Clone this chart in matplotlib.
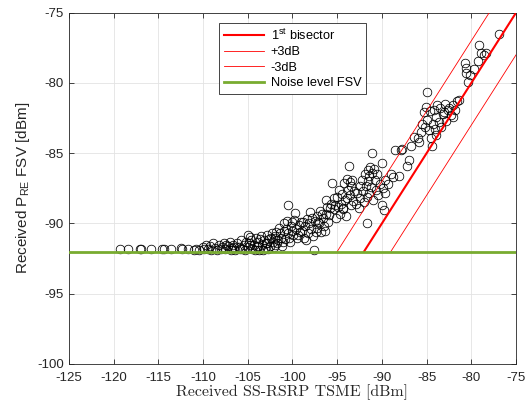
import matplotlib
matplotlib.use("Agg")
import matplotlib.pyplot as plt
import numpy as np

# ---- data ----
noise_level = -92.0
offsets = [0.0, 3.0, -3.0]          # bisector, +3dB, -3dB
labels = [r"1$^{\mathregular{st}}$ bisector", "+3dB", "-3dB", "Noise level FSV"]

tsme_x = [
    # flat part
    -119.3, -118.4, -117.0, -116.9, -115.8, -114.6, -114.4, -113.6, -112.5, -112.4, -111.7, -111.0, -110.8,
    # -110 .. -105
    -110.4, -110.0, -109.7, -109.5, -109.2, -108.9, -108.7, -108.4, -108.2, -107.9, -107.7, -107.5, -107.2,
    -107.0, -106.8, -106.6, -106.4, -106.2, -106.0, -105.8, -105.6, -105.4, -105.2, -105.0, -105.0, -104.8,
    -109.9, -109.1, -108.0, -107.4, -106.9, -106.5, -105.9, -105.3,
    # -105 .. -102
    -104.6, -104.5, -104.3, -104.1, -104.0, -103.8, -103.7, -103.5, -103.4, -103.2, -103.1, -102.9, -102.8,
    -102.6, -102.5, -102.3, -102.2, -102.0, -101.9,
    -104.9, -104.7, -104.2, -103.9, -103.6, -103.3, -103.0, -102.7, -102.4, -102.1,
    # -102 .. -99
    -101.8, -101.6, -101.5, -101.3, -101.2, -101.0, -100.9, -100.8, -100.6, -100.5, -100.5, -100.3, -100.2,
    -100.0, -99.9, -99.8, -99.7, -99.6, -99.5, -99.3, -99.2, -99.0,
    -101.9, -101.7, -101.4, -101.1, -100.7, -100.4, -100.1, -99.4,
    # -99 .. -96
    -98.9, -98.7, -98.6, -98.4, -98.3, -98.1, -98.0, -97.9, -97.7, -97.6, -97.5, -97.3, -97.2, -97.0, -96.9,
    -96.8, -96.6, -96.5, -96.3, -96.2, -96.1, -96.0,
    -98.8, -98.5, -97.8, -97.4, -97.1, -96.7, -96.4,
    # -96 .. -93
    -95.9, -95.7, -95.55, -95.4, -95.3, -95.1, -95.0, -94.9, -94.7, -94.6, -94.5, -94.4, -94.25, -94.1,
    -94.0, -93.9, -93.8, -93.7, -93.6, -93.5, -93.4, -93.3, -93.2, -93.1,
    -95.8, -95.2, -94.8, -94.3, -93.95, -93.55,
    # -93 .. -90
    -92.9, -92.8, -92.6, -92.5, -92.4, -92.2, -92.1, -92.0, -91.9, -91.8, -91.7, -91.7, -91.6, -91.5, -91.4,
    -91.4, -91.3, -91.2, -91.15, -91.1, -91.0, -90.9, -90.8, -90.7, -90.5, -90.4, -90.2, -90.04, -90.0,
    -89.8, -89.9,
    # -90 .. -86
    -89.7, -89.6, -89.3, -89.0, -88.8, -88.5, -88.1, -87.9, -87.7, -87.2, -87.0, -86.7, -86.4, -86.0,
    # -86 .. -81
    -85.9, -85.6, -85.5, -85.3, -85.2, -85.1, -85.0, -84.9, -84.75, -84.6, -84.55, -84.4, -84.3, -84.2,
    -84.1, -84.0, -83.9, -83.8, -83.6, -83.5, -83.4, -83.2, -83.1, -82.9, -82.8, -82.6, -82.5, -82.3,
    -82.1, -82.0, -81.8, -81.6, -81.4,
    # upper end
    -80.7, -80.6, -80.6, -80.4, -80.2, -79.7, -79.3, -79.1, -78.95, -78.6, -78.4, -76.9,
]

fsv_y = [
    -91.85, -91.85, -91.8, -91.85, -91.8, -91.8, -91.85, -91.8, -91.75, -91.85, -91.8, -91.9, -91.8,
    -91.9, -91.7, -91.5, -91.8, -91.6, -91.4, -91.75, -91.9, -91.55, -91.7, -91.4, -91.85, -91.6,
    -91.3, -91.75, -91.5, -91.9, -91.4, -91.65, -91.2, -91.8, -91.5, -91.35, -90.8, -91.7, -91.55,
    -91.85, -91.9, -91.85, -91.55, -91.9, -91.65, -91.85, -91.9,
    -91.2, -91.8, -91.5, -91.0, -91.7, -91.3, -91.9, -90.9, -91.5, -91.2, -91.75, -90.8, -91.4,
    -91.1, -91.6, -90.7, -91.3, -91.0, -91.5,
    -91.4, -90.95, -91.9, -91.6, -91.1, -91.9, -91.4, -91.85, -91.0, -91.7,
    -90.6, -91.2, -90.3, -91.0, -91.6, -90.5, -90.0, -91.1, -89.8, -88.65, -90.7, -91.3, -90.2,
    -89.9, -90.8, -89.75, -89.25, -90.4, -91.0, -90.1, -90.6, -89.9,
    -90.9, -91.4, -90.7, -91.3, -90.4, -91.0, -90.5, -90.8,
    -90.5, -91.0, -90.2, -89.7, -90.7, -90.0, -89.2, -90.4, -90.9, -91.9, -89.8, -90.3, -89.5, -90.0, -89.1,
    -90.6, -89.6, -90.2, -88.35, -89.3, -88.8, -89.9,
    -89.9, -91.2, -89.6, -90.6, -89.9, -89.3, -90.5,
    -89.4, -88.6, -87.1, -89.0, -88.2, -89.6, -88.1, -88.8, -89.3, -88.6, -87.9, -89.0, -87.15, -88.3,
    -89.5, -86.8, -87.6, -85.9, -88.0, -88.7, -87.3, -86.9, -88.4, -87.7,
    -88.9, -88.7, -87.6, -88.9, -88.2, -87.05,
    -88.6, -87.8, -88.9, -87.3, -88.2, -86.9, -87.7, -88.5, -86.5, -87.3, -89.95, -88.1, -86.2, -87.0, -86.6,
    -87.8, -86.0, -87.4, -85.0, -86.4, -88.3, -86.1, -86.9, -87.6, -86.5, -88.0, -87.2, -85.7, -88.7,
    -89.05, -87.5,
    -87.8, -86.9, -87.2, -86.5, -86.7, -84.8, -86.6, -84.8, -84.7, -85.9, -85.5, -84.5, -83.85, -83.9,
    -84.2, -83.5, -82.9, -82.1, -83.1, -81.7, -80.65, -82.6, -83.35, -82.0, -83.95, -84.45, -82.9, -81.9,
    -83.3, -83.7, -82.4, -81.6, -82.8, -81.8, -83.1, -82.2, -82.05, -81.5, -82.7, -81.9, -81.8, -82.3,
    -82.4, -81.6, -81.9, -81.3, -81.2,
    -78.6, -78.9, -79.3, -79.9, -79.4, -79.0, -78.4, -77.3, -77.9, -78.0, -77.85, -76.5,
]

x_ticks = [-125, -120, -115, -110, -105, -100, -95, -90, -85, -80, -75]
y_ticks = [-100, -95, -90, -85, -80, -75]

# ---- figure ----
plt.rcParams['font.family'] = ['Liberation Sans', 'DejaVu Sans']
plt.rcParams['mathtext.fontset'] = 'custom'
plt.rcParams['mathtext.rm'] = 'Liberation Sans'
plt.rcParams['mathtext.it'] = 'Liberation Sans:italic'
fig = plt.figure(figsize=(5.26, 4.07), dpi=100)
ax = fig.add_axes([0.131, 0.1057, 0.850, 0.863])

ax.plot(tsme_x, fsv_y, linestyle='none', marker='o', markersize=6.2,
        markerfacecolor='none', markeredgecolor='black', markeredgewidth=0.55, zorder=3)

xmax = -75.0
widths = [1.5, 0.6, 0.6]
handles = []
for off, lw, lab in zip(offsets, widths, labels[:3]):
    xs = np.array([noise_level - off, xmax])
    h, = ax.plot(xs, xs + off, color=(1, 0, 0), lw=lw, label=lab, zorder=4)
    handles.append(h)
h, = ax.plot([-125, -75], [noise_level, noise_level], color=(0.47, 0.67, 0.19),
             lw=2.0, label=labels[3], zorder=5)
handles.append(h)

ax.set_xlim(-125, -75)
ax.set_ylim(-100, -75)
ax.set_xticks(x_ticks)
ax.set_yticks(y_ticks)
ax.set_xticklabels([str(v) for v in x_ticks])
ax.set_yticklabels([str(v) for v in y_ticks])
ax.grid(True, color='#e3e3e3', lw=0.6)
ax.set_axisbelow(True)
ax.tick_params(direction='in', length=3.5, width=0.6, colors='#262626',
               labelsize=9.5, top=True, right=True)
ax.tick_params(axis='x', pad=6)
for s in ax.spines.values():
    s.set_color('#262626')
    s.set_linewidth(0.6)

ax.set_xlabel('Received SS-RSRP TSME [dBm]', family='cmr10', fontsize=11.5,
              color='#262626', labelpad=0)
ax.set_ylabel(r'Received P$_{\mathrm{RE}}$ FSV [dBm]', fontsize=11,
              color='#262626', labelpad=4)

leg = ax.legend(handles=handles, loc='upper center', bbox_to_anchor=(0.5, 0.971),
                borderaxespad=0, fontsize=9.2, frameon=True, fancybox=False, framealpha=1,
                edgecolor='#262626', handlelength=3.2, borderpad=0.35,
                labelspacing=0.28, handletextpad=0.5)
leg.get_frame().set_linewidth(0.6)

fig.savefig('out.png', dpi=100)
